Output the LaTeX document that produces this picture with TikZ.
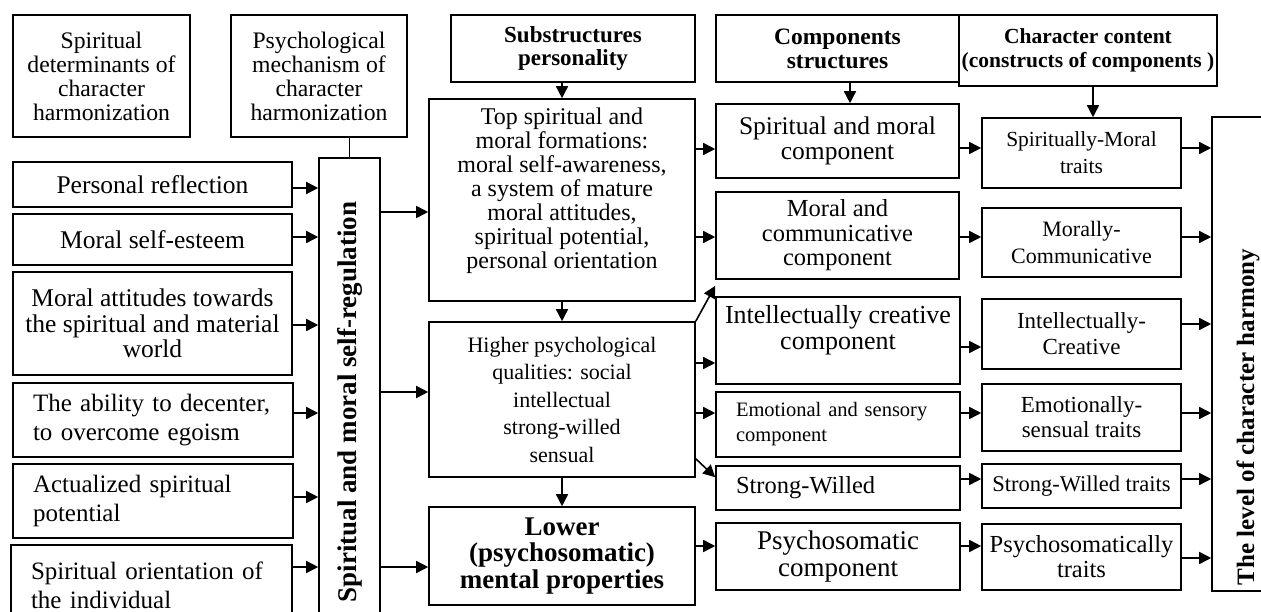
\documentclass[tikz,border=0pt]{standalone}
\usepackage{fontspec}
\setmainfont{Liberation Serif}
\usetikzlibrary{arrows.meta}

\begin{document}
\begin{tikzpicture}[x=1pt,y=-1pt,
  box/.style={draw,line width=1.6pt,inner sep=1pt,align=center},
  fnt/.style 2 args={font=\fontsize{#1}{#2}\selectfont},
  bfnt/.style 2 args={font=\fontsize{#1}{#2}\selectfont\bfseries},
  lft/.style={align=left,text width=#1,inner xsep=20pt},
  arr/.style={line width=1.6pt,-{Triangle[length=12pt,width=12pt]}}]
\useasboundingbox (0,0) rectangle (1261,612);
\clip (0,0) rectangle (1261,612);

\node[box,fnt={23.7}{24},minimum width=177pt,minimum height=122pt] (det) at (101.5,76) {Spiritual\\determinants of\\character\\harmonization};
\node[box,fnt={23.7}{24},minimum width=176pt,minimum height=122pt] (mech) at (319,76) {Psychological\\mechanism of\\character\\harmonization};

\node[box,fnt={25.5}{26},minimum width=279pt,minimum height=45pt] (pr) at (152.5,184.5) {Personal reflection};
\node[box,fnt={25.5}{26},minimum width=279pt,minimum height=51pt] (mse) at (152.5,239.5) {Moral self-esteem};
\node[box,fnt={25.5}{25.5},minimum width=279pt,minimum height=103pt] (mat) at (152.5,323.5) {Moral attitudes towards\\the spiritual and material\\world};
\node[box,fnt={25}{29.5},lft=240pt,minimum width=280pt,minimum height=74pt] (dec) at (153,420) {The ability to decenter,\\to overcome egoism};
\node[box,fnt={25}{29.5},lft=240pt,minimum width=280pt,minimum height=74pt] (act) at (153,501) {Actualized spiritual\\potential};
\node[box,fnt={25}{29},lft=241pt,minimum width=281pt,minimum height=80pt] (so) at (151.5,585) {Spiritual orientation of\\the individual};

\node[box,bfnt={27}{27},minimum width=61pt,minimum height=488pt] (reg) at (349.5,402) {\rotatebox{90}{Spiritual and moral self-regulation}};

\node[box,bfnt={23}{23.5},minimum width=244pt,minimum height=67pt] (sub) at (573,48.5) {Substructures\\personality};
\node[box,fnt={24}{24},minimum width=266pt,minimum height=202pt] (top) at (562,200) {Top spiritual and\\moral formations:\\moral self-awareness,\\a system of mature\\moral attitudes,\\spiritual potential,\\personal orientation\\ \mbox{}};
\node[box,fnt={22}{27.5},minimum width=266pt,minimum height=155pt] (hig) at (562,399.5) {Higher psychological\\qualities: social\\intellectual\\strong-willed\\sensual};
\node[box,bfnt={27}{26.5},minimum width=266pt,minimum height=98pt] (low) at (562,556) {Lower\\(psychosomatic)\\mental properties};

\node[box,bfnt={23.5}{24},minimum width=243pt,minimum height=67pt] (cst) at (837.5,48.5) {Components\\structures};
\node[box,fnt={25.5}{25.5},minimum width=243pt,minimum height=74pt] (c1) at (837.5,141) {Spiritual and moral\\component};
\node[box,fnt={24.5}{24.5},minimum width=243pt,minimum height=87pt] (c2) at (837.5,235.5) {Moral and\\communicative\\component};
\node[box,fnt={26}{26},minimum width=244pt,minimum height=87pt] (c3) at (838,340.5) {Intellectually creative\\component\\ \mbox{}};
\node[box,fnt={20.5}{25},lft=204pt,minimum width=244pt,minimum height=65pt] (c4) at (838,424.5) {Emotional and sensory\\component};
\node[box,fnt={24.5}{25},lft=204pt,minimum width=244pt,minimum height=44pt] (c5) at (838,488) {Strong-Willed};
\node[box,fnt={27}{27},minimum width=244pt,minimum height=67pt] (c6) at (838,556.5) {Psychosomatic\\component};

\node[box,bfnt={21.5}{24},minimum width=258pt,minimum height=71pt] (chc) at (1088,50.5) {Character content\\(constructs of components )};
\node[box,fnt={21.5}{27},minimum width=199pt,minimum height=70pt] (t1) at (1081.5,153) {Spiritually-Moral\\traits};
\node[box,fnt={22}{27},minimum width=199pt,minimum height=69pt] (t2) at (1081.5,242.5) {Morally-\\Communicative};
\node[box,fnt={23}{26},minimum width=199pt,minimum height=70pt] (t3) at (1081.5,334) {Intellectually-\\Creative};
\node[box,fnt={23}{25},minimum width=199pt,minimum height=67pt] (t4) at (1081.5,417.5) {Emotionally-\\sensual traits};
\node[box,fnt={22.5}{25},minimum width=199pt,minimum height=44pt] (t5) at (1081.5,486) {Strong-Willed traits};
\node[box,fnt={24.5}{25},minimum width=199pt,minimum height=66pt] (t6) at (1081.5,557) {Psychosomatically\\traits};

\node[box,bfnt={25}{25},minimum width=72pt,minimum height=474pt] (lev) at (1248,354) {\rotatebox{90}{The level of character harmony\hspace{126pt}}};

\draw[line width=1.6pt] (reg.north) -- (reg.north |- mech.south);

\foreach \a/\b/\s in {pr/reg/-3.5,mse/reg/2.5,mat/reg/-1.5,dec/reg/7,act/reg/4,so/reg/18,
  c1/t1/-7,c2/t2/-1.5,c3/t3/-6.5,c4/t4/11.5,c5/t5/9,c6/t6/10.5,
  t1/lev/5,t2/lev/5.5,t3/lev/10,t4/lev/4.5,t5/lev/7,t6/lev/-1}{
	\draw[arr] ([yshift=\s pt]\a.east) coordinate (p) -- (p -| \b.west);
}

\foreach \a/\b/\s in {reg/top/-12,reg/hig/7.5,reg/low/-11,top/c1/-8,top/c2/-1.5,
  hig/c3/-22.5,hig/c4/11.5,low/c6/10.5}{
	\path ([yshift=\s pt]\b.west) coordinate (p);
	\draw[arr] (p -| \a.east) -- (p);
}

\draw[arr] (hig.north east) -- ([yshift=-6pt]c2.south west);
\draw[arr] ([yshift=19pt]hig.south east) -- ([yshift=-12pt]c5.north west);

\draw[arr] (top.north |- sub.south) -- (top.north);
\draw[arr] (top.south) -- (hig.north);
\draw[arr] (hig.south) -- (low.north);
\draw[arr] ([xshift=12.5pt]cst.south) -- ([xshift=12.5pt]c1.north);
\draw[arr] ([xshift=5pt]chc.south) coordinate (q) -- (q |- t1.north);

\end{tikzpicture}
\end{document}
